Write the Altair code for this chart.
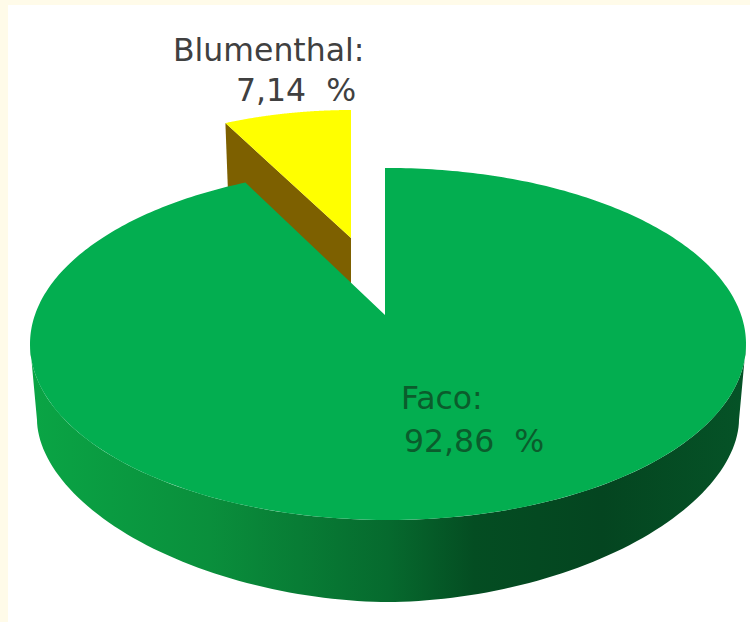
import math
import altair as alt

# Shares of the two techniques, in percent
techniques = ["Blumenthal", "Faco"]
shares = [7.14, 92.86]

SIZE = (750, 622)
FACE = dict(cx=388, cy=344, rx=358, ry=176)
BASE = dict(cx=388, cy=420, rx=351, ry=182)
SLICE_FACE = dict(cx=352, cy=270, rx=320, ry=160)
FACO_APEX = (385, 315)
BLUM_APEX = (351, 238)
BLUM_DEPTH = 80
FACO_FLATTEN = 2.19
BLUM_FLATTEN = 2.27


def rim_point(apex, ellipse, angle, flatten):
    """Cast a ray from the apex at a clockwise pie angle onto a rim ellipse."""
    dx = math.sin(angle) * flatten
    dy = -math.cos(angle)
    ax = (apex[0] - ellipse["cx"]) / ellipse["rx"]
    ay = (apex[1] - ellipse["cy"]) / ellipse["ry"]
    ux = dx / ellipse["rx"]
    uy = dy / ellipse["ry"]
    a = ux * ux + uy * uy
    b = 2 * (ax * ux + ay * uy)
    c = ax * ax + ay * ay - 1
    t = (-b + math.sqrt(b * b - 4 * a * c)) / (2 * a)
    return [apex[0] + t * dx, apex[1] + t * dy]


def sweep(apex, ellipse, start, end, flatten, steps=180):
    return [
        rim_point(apex, ellipse, start + (end - start) * i / steps, flatten)
        for i in range(steps + 1)
    ]


def half_rim(ellipse, exponent=2.0, steps=120):
    # Lower half of a (super)ellipse, running from its left end to its right end
    points = []
    for i in range(steps + 1):
        c = math.cos(math.pi * i / steps)
        s = math.sin(math.pi * i / steps)
        points.append(
            [
                ellipse["cx"] - ellipse["rx"] * math.copysign(abs(c) ** (2 / exponent), c),
                ellipse["cy"] + ellipse["ry"] * s ** (2 / exponent),
            ]
        )
    return points


def polygon(points):
    ring = points + [points[0]]
    return alt.Data(
        values=[
            {
                "type": "Feature",
                "properties": {},
                "geometry": {"type": "Polygon", "coordinates": [ring]},
            }
        ]
    )


blum_angle = shares[0] / 100 * 2 * math.pi
faco_angle = shares[1] / 100 * 2 * math.pi

# The small slice sweeps from its left edge to the vertical edge at twelve o'clock
blum_rim = sweep(BLUM_APEX, SLICE_FACE, -blum_angle, 0, BLUM_FLATTEN)
blum_top = [list(BLUM_APEX)] + blum_rim
left_end = blum_rim[0]
blum_wall = [
    list(BLUM_APEX),
    left_end,
    [left_end[0] + 3, left_end[1] + BLUM_DEPTH],
    [BLUM_APEX[0], BLUM_APEX[1] + BLUM_DEPTH],
]

faco_top = [list(FACO_APEX)] + sweep(FACO_APEX, FACE, 0, faco_angle, FACO_FLATTEN, steps=360)
side_wall = half_rim(FACE) + half_rim(BASE, exponent=1.85)[::-1]


def shape(points, fill):
    return (
        alt.Chart(polygon(points))
        .mark_geoshape(fill=fill, strokeWidth=0)
        .project(type="identity", scale=1, translate=[0, 0])
    )


side_fill = alt.Gradient(
    gradient="linear",
    x1=0,
    x2=1,
    y1=0,
    y2=0,
    stops=[
        alt.GradientStop(offset=0.0, color="#0aa545"),
        alt.GradientStop(offset=0.25, color="#0a8f3c"),
        alt.GradientStop(offset=0.5, color="#066a2e"),
        alt.GradientStop(offset=0.62, color="#044d22"),
        alt.GradientStop(offset=0.8, color="#044520"),
        alt.GradientStop(offset=1.0, color="#055327"),
    ],
)

panel = (
    alt.Chart(alt.Data(values=[{"panel": 1}]))
    .mark_rect(fill="#ffffff")
    .encode(x=alt.value(8), x2=alt.value(SIZE[0]), y=alt.value(5), y2=alt.value(SIZE[1]))
)


def label(text, x, y, color, align="left"):
    return (
        alt.Chart(alt.Data(values=[{"label": text}]))
        .mark_text(font="DejaVu Sans", fontSize=31.5, color=color, align=align, baseline="alphabetic")
        .encode(text="label:N", x=alt.value(x), y=alt.value(y))
    )


def percent(value):
    return f"{value:.2f}".replace(".", ",") + "\u00a0\u00a0%"


chart = (
    alt.layer(
        panel,
        shape(blum_wall, "#7d6000"),
        shape(blum_top, "#ffff00"),
        shape(side_wall, side_fill),
        shape(faco_top, "#03ae50"),
        label(techniques[0] + ":", 173, 61, "#404040"),
        label(percent(shares[0]), 236, 101, "#404040"),
        label(techniques[1] + ":", 401, 409, "#0b5c2c"),
        label(percent(shares[1]), 404, 452, "#0b5c2c"),
    )
    .properties(
        width=SIZE[0],
        height=SIZE[1],
        padding=0,
        background="#fffbe9",
        autosize=alt.AutoSizeParams(type="none"),
    )
    .configure_view(stroke=None)
)

chart.save("out.html", embed_options={"renderer": "svg", "actions": False})
